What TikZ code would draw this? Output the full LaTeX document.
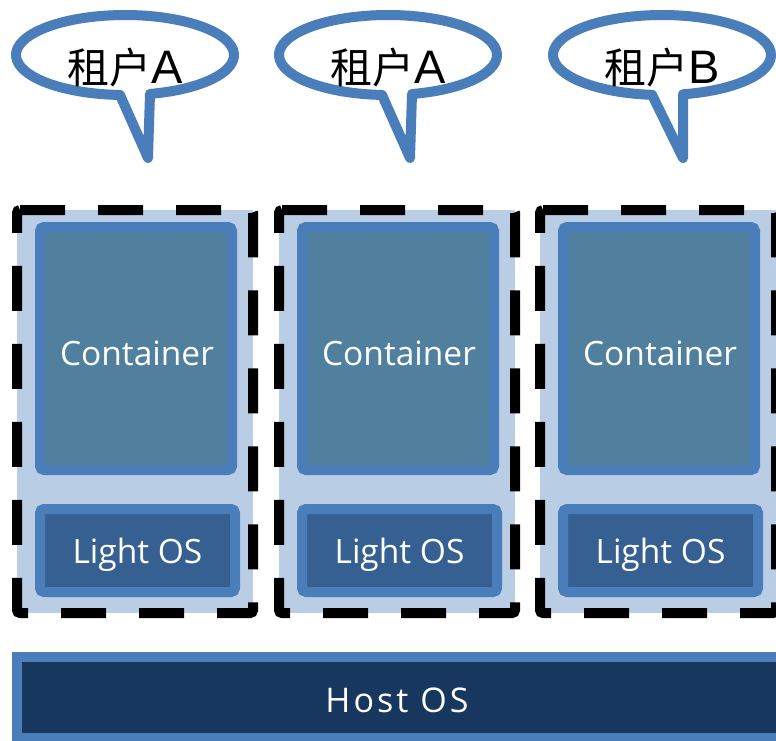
\documentclass[tikz,border=0pt]{standalone}
\usepackage{fontspec}
\setmainfont{Open Sans}
\newfontfamily\cjkfont{Noto Sans CJK SC}
\newfontfamily\latinfont{Liberation Sans}
\newfontfamily\spacedfont[LetterSpace=9]{Open Sans}

\definecolor{edgeblue}{HTML}{4A7EBB}
\definecolor{paleblue}{HTML}{B9CDE5}
\definecolor{containerfill}{HTML}{50809E}
\definecolor{osfill}{HTML}{376092}
\definecolor{hostfill}{HTML}{17375E}

\tikzset{
  bubble/.style={draw=edgeblue, fill=white, line width=10pt, line join=round},
  tenant/.style={inner sep=0pt, anchor=base, text=black},
  zone/.style={fill=paleblue},
  zoneedge/.style={draw=black, line width=10pt, dash pattern=on 45pt off 33pt, rounded corners=3pt},
  innerbox/.style={draw=edgeblue, line width=10pt, rounded corners=4pt},
  boxlabel/.style={inner sep=0pt, anchor=base, text=white, font=\fontsize{33.5}{40}\selectfont},
}

% speech bubble: #1 name, #2 centre x, #3/#4 tail attach offsets, #5 tip offset, #6 label
\newcommand\speechbubble[6]{%
  \pgfmathsetmacro\angL{acos(#3/109)}%
  \pgfmathsetmacro\angR{acos(#4/109)}%
  \pgfmathsetmacro\angE{\angL-360}%
  \draw[bubble] ({#2+109*cos(\angR)},{55+40*sin(\angR)})
     arc[start angle=\angR, end angle=\angE, x radius=109, y radius=40]
     -- (#2+#5,158) -- cycle;
  \node[tenant] (#1) at (#2,83) {\fontsize{42}{48}\selectfont\cjkfont 租户\latinfont\fontsize{47}{48}\selectfont #6};
}

% tenant zone with container and light OS: #1 name prefix, #2 x offset
\newcommand\tenantzone[2]{%
  \begin{scope}[xshift=#2pt]
    \fill[zone] (17,210) rectangle (253,613);
    \draw[innerbox, fill=containerfill] (40,227) rectangle (232,470);
    \draw[innerbox, fill=osfill] (40,509) rectangle (235,592);
    \draw[zoneedge] (17,210) -- (253,210) -- (253,613) -- (17,613) -- cycle;
    \node[boxlabel] (#1c) at (137,365) {Container};
    \node[boxlabel] (#1o) at (137.5,563) {Light OS};
  \end{scope}
}

\begin{document}
\begin{tikzpicture}[x=1pt, y=-1pt]
  \useasboundingbox (0,0) rectangle (776,740);
  \clip (0,0) rectangle (776,740);
  \fill[white] (0,0) rectangle (776,740);

  \speechbubble{t1}{125}{-5}{25}{23}{A}
  \speechbubble{t2}{388}{-6}{24}{22}{A}
  \speechbubble{t3}{662}{-10}{21}{21}{B}

  \tenantzone{z1}{0}
  \tenantzone{z2}{262}
  \tenantzone{z3}{523}

  \draw[draw=edgeblue, fill=hostfill, line width=10pt] (17,657) rectangle (800,738);
  \node[boxlabel, font=\fontsize{34}{40}\spacedfont] (host) at (397,712) {Host OS};
\end{tikzpicture}
\end{document}
